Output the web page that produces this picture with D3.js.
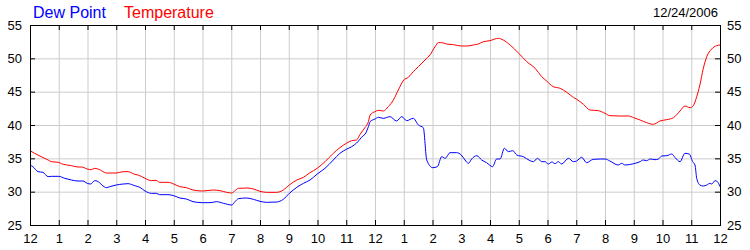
<!DOCTYPE html>
<html>
<head>
<meta charset="utf-8">
<script src="https://cdn.jsdelivr.net/npm/d3@7"></script>
<style>
  body { margin: 0; background: #fff; }
  svg { display: block; font-family: "Liberation Sans", Arial, sans-serif; }
</style>
</head>
<body>
<script>
  'use strict'

  // hours since midnight
  const tempHours = [0, 0.16, 0.39, 0.63, 0.74, 1.0, 1.09, 1.44, 1.67, 1.79, 1.99, 2.13, 2.25, 2.42, 2.66, 3.0, 3.24, 3.41, 3.64, 3.76,
    4.0, 4.22, 4.39, 4.51, 4.8, 5.0, 5.21, 5.44, 5.67, 6.0, 6.38, 6.61, 6.84, 7.02, 7.13, 7.25, 7.54, 7.77, 8.0, 8.23,
    8.58, 8.81, 9.02, 9.28, 9.51, 9.74, 9.99, 10.26, 10.55, 10.78, 11.0, 11.19, 11.36, 11.48, 11.65, 11.77, 11.83, 12.0, 12.12, 12.29,
    12.46, 12.64, 12.81, 13.0, 13.16, 13.33, 13.51, 13.74, 13.91, 14.09, 14.2, 14.32, 14.49, 14.73, 15.0, 15.19, 15.42, 15.59, 15.77, 16.0,
    16.17, 16.29, 16.46, 16.7, 17.0, 17.28, 17.57, 17.8, 17.97, 18.2, 18.44, 18.67, 18.9, 19.0, 19.25, 19.48, 19.77, 20.0, 20.17, 20.52,
    20.81, 21.0, 21.22, 21.45, 21.68, 21.91, 22.15, 22.38, 22.61, 22.78, 22.96, 23.07, 23.19, 23.3, 23.42, 23.54, 23.71, 23.88, 24.0]
  const tempValues = [36.15, 35.75, 35.25, 34.75, 34.5, 34.4, 34.2, 33.9, 33.7, 33.7, 33.4, 33.3, 33.5, 33.3, 32.8, 32.8, 33.0, 33.0, 32.6, 32.5,
    32.0, 31.65, 31.7, 31.4, 31.4, 31.15, 30.75, 30.6, 30.25, 30.1, 30.25, 30.15, 29.9, 29.8, 30.15, 30.5, 30.55, 30.4, 30.05, 29.9,
    29.9, 30.25, 31.0, 31.75, 32.15, 32.85, 33.5, 34.5, 35.75, 36.6, 37.25, 37.65, 37.75, 38.6, 39.6, 40.5, 41.5, 42.0, 42.2, 42.1,
    42.75, 43.75, 45.25, 46.75, 47.15, 48.0, 48.75, 49.75, 50.5, 51.75, 52.35, 52.35, 52.15, 52.05, 51.85, 51.85, 52.0, 52.15, 52.5, 52.65,
    52.9, 53.0, 52.75, 52.0, 50.75, 49.5, 48.5, 47.25, 46.6, 45.75, 45.5, 44.9, 44.15, 43.9, 43.1, 42.25, 42.15, 41.75, 41.4, 41.35,
    41.35, 41.1, 40.75, 40.35, 40.1, 40.6, 40.8, 41.1, 42.1, 42.85, 42.6, 42.9, 44.25, 46.0, 48.5, 50.25, 51.4, 51.9, 52.0]

  const dewHours = [0, 0.1, 0.28, 0.45, 0.63, 0.74, 1.0, 1.21, 1.44, 1.67, 1.84, 1.99, 2.11, 2.25, 2.42, 2.5, 2.66, 2.77, 3.0, 3.24,
    3.41, 3.64, 3.82, 4.0, 4.22, 4.39, 4.51, 4.8, 5.0, 5.21, 5.44, 5.67, 6.0, 6.26, 6.49, 6.73, 7.02, 7.13, 7.25, 7.54,
    7.77, 8.0, 8.23, 8.58, 8.81, 9.02, 9.28, 9.51, 9.74, 9.99, 10.26, 10.55, 10.78, 11.0, 11.19, 11.36, 11.59, 11.65, 11.77, 11.83,
    12.0, 12.12, 12.29, 12.52, 12.75, 12.93, 13.1, 13.33, 13.51, 13.68, 13.8, 14.01, 14.17, 14.32, 14.44, 14.61, 14.84, 15.0, 15.13, 15.25,
    15.36, 15.54, 15.71, 15.88, 16.09, 16.23, 16.35, 16.5, 16.64, 16.79, 16.93, 17.16, 17.39, 17.51, 17.65, 17.8, 17.91, 18.03, 18.15, 18.26,
    18.38, 18.49, 18.73, 18.9, 19.01, 19.19, 19.36, 19.59, 19.83, 20.0, 20.17, 20.46, 20.58, 20.7, 21.0, 21.22, 21.33, 21.45, 21.57, 21.74,
    21.86, 21.97, 22.15, 22.32, 22.44, 22.61, 22.78, 22.93, 23.05, 23.13, 23.19, 23.3, 23.42, 23.54, 23.65, 23.71, 23.83, 23.91, 24.0]
  const dewValues = [34.0, 33.75, 33.0, 32.9, 32.25, 32.3, 32.3, 32.0, 31.75, 31.6, 31.6, 31.25, 31.15, 31.65, 31.35, 31.0, 30.6, 30.75, 31.0, 31.15,
    31.2, 30.9, 30.65, 30.1, 29.75, 29.75, 29.55, 29.55, 29.4, 29.05, 28.9, 28.5, 28.35, 28.35, 28.5, 28.25, 28.0, 28.5, 28.95, 29.05,
    28.85, 28.55, 28.4, 28.45, 28.85, 29.75, 30.65, 31.25, 31.75, 32.65, 33.5, 34.75, 35.75, 36.35, 36.75, 37.3, 38.4, 38.6, 39.75, 40.5,
    40.9, 41.15, 41.0, 41.25, 40.6, 41.25, 40.65, 41.0, 40.0, 39.6, 34.75, 33.6, 33.75, 35.25, 35.0, 35.85, 35.85, 35.5, 34.75, 34.25,
    34.9, 35.4, 34.75, 34.35, 33.75, 34.9, 34.9, 36.5, 36.0, 36.15, 35.5, 35.25, 34.65, 34.5, 35.0, 34.5, 34.5, 34.15, 34.45, 34.2,
    34.5, 34.15, 35.0, 34.5, 34.6, 35.15, 34.35, 34.85, 34.9, 34.9, 34.6, 34.0, 34.25, 34.0, 34.2, 34.5, 34.75, 34.65, 34.9, 34.8,
    34.9, 35.35, 35.4, 35.65, 35.1, 34.5, 35.75, 35.65, 34.5, 34.0, 32.0, 31.0, 30.85, 31.0, 31.25, 31.15, 31.65, 31.5, 30.75]

  const hourTicks = d3.range(0, 25)
  const valueTicks = [25, 30, 35, 40, 45, 50, 55]
  const dateLabel = '12/24/2006'

  const W = 750, H = 250
  const margin = {top: 25, right: 30, bottom: 25, left: 30}
  const w = W - margin.left - margin.right
  const h = H - margin.top - margin.bottom

  const svg = d3.select('body').append('svg')
    .attr('width', W)
    .attr('height', H)

  const g = svg.append('g')
    .attr('transform', `translate(${margin.left},${margin.top})`)

  const x = d3.scaleLinear().domain([0, 24]).range([0, w])
  const y = d3.scaleLinear().domain([25, 55]).range([h, 0])

  const hourLabel = (d) => (d % 12 === 0 ? 12 : d % 12)

  // grid
  g.append('g')
    .attr('transform', `translate(0,${h})`)
    .call(d3.axisBottom(x).tickValues(hourTicks).tickSize(-h).tickFormat(''))
    .call((s) => s.select('.domain').remove())
    .selectAll('line').attr('stroke', '#cccccc')
  g.append('g')
    .call(d3.axisLeft(y).tickValues(valueTicks).tickSize(-w).tickFormat(''))
    .call((s) => s.select('.domain').remove())
    .selectAll('line').attr('stroke', '#cccccc')

  // lines
  const line = (hours) => d3.line()
    .x((d, i) => x(hours[i]))
    .y((d) => y(d))
    .curve(d3.curveMonotoneX)

  g.append('path')
    .datum(dewValues)
    .attr('fill', 'none')
    .attr('stroke', '#0000ff')
    .attr('stroke-width', 1)
    .attr('d', line(dewHours))

  g.append('path')
    .datum(tempValues)
    .attr('fill', 'none')
    .attr('stroke', '#ff0000')
    .attr('stroke-width', 1)
    .attr('d', line(tempHours))

  // frame with inward ticks
  g.append('rect')
    .attr('x', 0.5).attr('y', 0.5)
    .attr('width', w).attr('height', h)
    .attr('fill', 'none')
    .attr('stroke', '#000')

  const inward = [
    [d3.axisTop(x).tickValues(hourTicks), 'translate(0,0)'],
    [d3.axisBottom(x).tickValues(hourTicks), `translate(0,${h})`],
    [d3.axisLeft(y).tickValues(valueTicks), 'translate(0,0)'],
    [d3.axisRight(y).tickValues(valueTicks), `translate(${w},0)`]
  ]
  inward.forEach(([ax, tr]) => {
    g.append('g')
      .attr('transform', tr)
      .call(ax.tickSize(-5).tickFormat(''))
      .call((s) => s.select('.domain').remove())
      .selectAll('line').attr('stroke', '#000')
  })

  // labels
  const labelAxis = (ax, tr, pad) => {
    const a = g.append('g')
      .attr('transform', tr)
      .call(ax.tickSize(0).tickPadding(pad))
    a.select('.domain').remove()
    a.selectAll('text')
      .attr('fill', '#000')
      .style('font-size', '13px')
      .style('font-family', '"Liberation Sans", Arial, sans-serif')
  }
  labelAxis(d3.axisBottom(x).tickValues(hourTicks).tickFormat(hourLabel), `translate(0,${h})`, 9)
  labelAxis(d3.axisLeft(y).tickValues(valueTicks), 'translate(0,0)', 8)
  labelAxis(d3.axisRight(y).tickValues(valueTicks), `translate(${w},0)`, 7)

  svg.append('text')
    .attr('x', 33).attr('y', 18)
    .attr('fill', '#0000ff')
    .style('font-size', '16px')
    .text('Dew Point')

  svg.append('text')
    .attr('x', 124).attr('y', 18)
    .attr('fill', '#ff0000')
    .style('font-size', '16px')
    .text('Temperature')

  svg.append('text')
    .attr('x', 718).attr('y', 17)
    .attr('text-anchor', 'end')
    .attr('fill', '#000')
    .style('font-size', '13px')
    .text(dateLabel)
</script>
</body>
</html>
